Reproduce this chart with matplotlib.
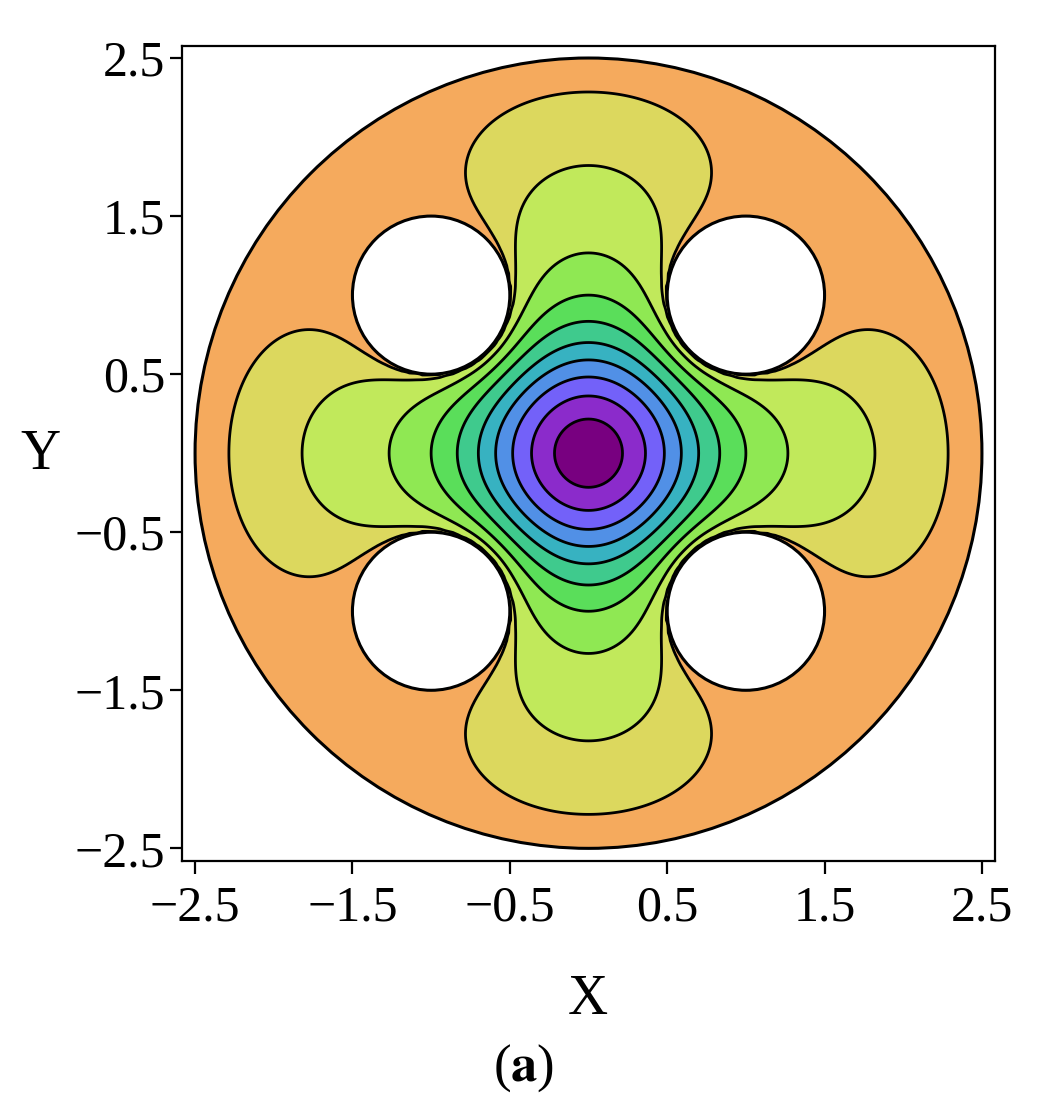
import numpy as np
import matplotlib.pyplot as plt
from matplotlib.patches import Circle
from matplotlib.ticker import FixedLocator, FixedFormatter

# geometry of the cross-section
outer_radius = 2.5
hole_centers = [(1.0, 1.0), (-1.0, 1.0), (-1.0, -1.0), (1.0, -1.0)]
hole_radius = 0.5

# where each contour line cuts the positive x-axis
crossings = [0.216, 0.362, 0.482, 0.59, 0.70, 0.834, 1.0, 1.267, 1.82, 2.285]

# fill colours, from the centre outwards
band_colors = ['#780080', '#8b2bcb', '#7361f9', '#5190e6', '#37b2c1', '#3fca8d',
               '#5ade5a', '#8fe853', '#c1e95b', '#dcd85e', '#f5aa5d']

ticks = [-2.5, -1.5, -0.5, 0.5, 1.5, 2.5]


def solve_field(n=321, half=2.6, iters=900, omega=1.97, spread=0.45):
    """lap u = source near the centre, u = 0 on every boundary (red-black SOR)"""
    s = np.linspace(-half, half, n)
    X, Y = np.meshgrid(s, s)
    h = s[1] - s[0]
    inside = np.hypot(X, Y) < outer_radius
    for cx, cy in hole_centers:
        inside &= np.hypot(X - cx, Y - cy) > hole_radius
    src = np.exp(-(X**2 + Y**2) / spread**2)
    parity = np.add.outer(np.arange(n), np.arange(n)) % 2
    sweeps = [inside & (parity == p) for p in (0, 1)]
    u = np.zeros_like(X)
    nb = np.zeros_like(X)
    for _ in range(iters):
        for m in sweeps:
            nb[1:-1, 1:-1] = u[:-2, 1:-1] + u[2:, 1:-1] + u[1:-1, :-2] + u[1:-1, 2:]
            gs = 0.25 * (nb - h * h * src)
            u = np.where(m, u + omega * (gs - u), u)
    return s, X, Y, u


s, X, Y, u = solve_field()
mid = len(s) // 2
levels = np.interp(crossings, s[mid:], u[mid, mid:])
levels = np.maximum.accumulate(levels) + 1e-9 * np.arange(len(levels))

plt.rcParams['font.family'] = ['Liberation Serif', 'DejaVu Serif']
plt.rcParams['mathtext.fontset'] = 'stix'

fig = plt.figure(figsize=(10.48, 11.16), dpi=100)
ax = fig.add_axes([182 / 1048, 1 - 861 / 1116, 813 / 1048, 815 / 1116])

bounds = [u.min() - 1.0, *levels, 1.0]
disk = Circle((0, 0), outer_radius, transform=ax.transData, fc='none', ec='none')
ax.add_patch(disk)
cf = ax.contourf(X, Y, u, levels=bounds, colors=band_colors)
cf.set_clip_path(disk)
cl = ax.contour(X, Y, u, levels=levels, colors='k', linewidths=2.0,
                linestyles='solid')
cl.set_clip_path(disk)

ax.add_patch(Circle((0, 0), outer_radius, fill=False, ec='k', lw=2.2, zorder=3))
for c in hole_centers:
    ax.add_patch(Circle(c, hole_radius, fc='white', ec='k', lw=2.2, zorder=3))

ax.set_xlim(-2.583, 2.583)
ax.set_ylim(-2.58, 2.576)

labels = [f'{t:g}'.replace('-', '\u2212') for t in ticks]
ax.xaxis.set_major_locator(FixedLocator(ticks))
ax.xaxis.set_major_formatter(FixedFormatter(labels))
ax.yaxis.set_major_locator(FixedLocator(ticks))
ax.yaxis.set_major_formatter(FixedFormatter(labels))
ax.tick_params(axis='both', direction='out', length=9, width=1.6, labelsize=36)
ax.tick_params(axis='x', pad=8)
ax.tick_params(axis='y', pad=3)
for sp in ax.spines.values():
    sp.set_linewidth(1.6)

fig.text(40 / 1048, 1 - 455 / 1116, 'Y', fontsize=40, ha='center', va='center')
fig.text(588 / 1048, 1 - 1000 / 1116, 'X', fontsize=40, ha='center', va='center')
fig.text(524 / 1048, 1 - 1068 / 1116, r'($\mathbf{a}$)', fontsize=38, ha='center', va='center')

fig.savefig('out.png', dpi=100)
